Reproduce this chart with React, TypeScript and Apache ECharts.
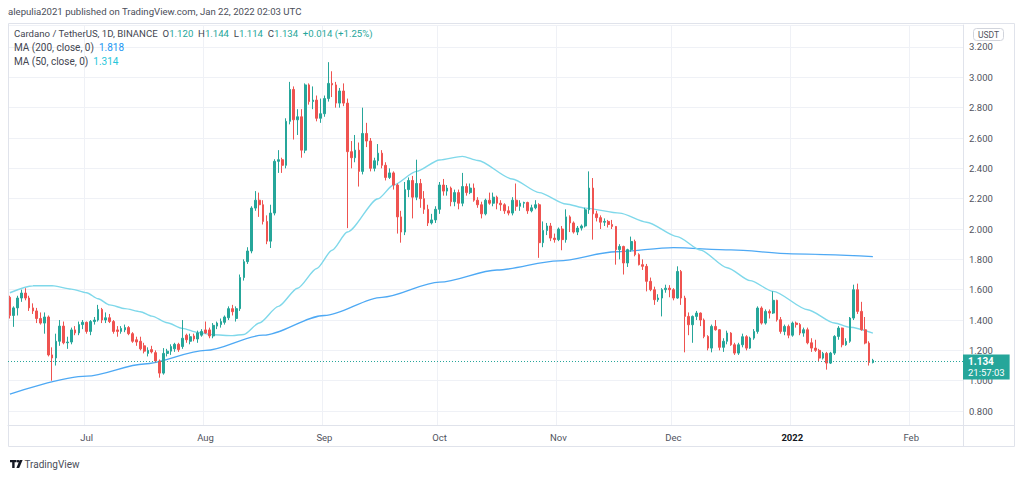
import React, { useEffect, useRef } from "react";
import * as echarts from "echarts";

// ---------- data ----------
const firstDay = Date.UTC(2021, 5, 11); // 2021-06-11
const axisDays = 249; // through 2022-02-14
const monthNames = ["Jan", "Feb", "Mar", "Apr", "May", "Jun", "Jul", "Aug", "Sep", "Oct", "Nov", "Dec"];

const dates: string[] = [];
for (let i = 0; i < axisDays; i++) {
  dates.push(new Date(firstDay + i * 86400000).toISOString().slice(0, 10));
}

// [open, high, low, close]
const june: number[][] = [
  [1.55, 1.56, 1.41, 1.43], [1.43, 1.49, 1.355, 1.48], [1.48, 1.56, 1.43, 1.545], [1.545, 1.6, 1.52, 1.578],
  [1.578, 1.61, 1.53, 1.545], [1.545, 1.56, 1.46, 1.48], [1.48, 1.51, 1.44, 1.46], [1.46, 1.48, 1.38, 1.41],
  [1.41, 1.45, 1.37, 1.38], [1.38, 1.45, 1.31, 1.42], [1.42, 1.43, 1.16, 1.17], [1.17, 1.22, 1.0, 1.15],
  [1.15, 1.31, 1.1, 1.26], [1.26, 1.4, 1.23, 1.36], [1.36, 1.39, 1.24, 1.25], [1.25, 1.29, 1.21, 1.255],
  [1.255, 1.35, 1.24, 1.335], [1.335, 1.36, 1.3, 1.315], [1.315, 1.39, 1.3, 1.37], [1.37, 1.4, 1.34, 1.385],
];
const july: number[][] = [
  [1.385, 1.39, 1.31, 1.325], [1.325, 1.4, 1.3, 1.39], [1.39, 1.42, 1.37, 1.4], [1.4, 1.5, 1.39, 1.47],
  [1.47, 1.48, 1.38, 1.4], [1.4, 1.45, 1.38, 1.415], [1.415, 1.44, 1.38, 1.39], [1.39, 1.4, 1.31, 1.325],
  [1.335, 1.36, 1.29, 1.325], [1.325, 1.36, 1.31, 1.345], [1.335, 1.37, 1.32, 1.35], [1.35, 1.36, 1.3, 1.31],
  [1.31, 1.32, 1.25, 1.26], [1.27, 1.29, 1.23, 1.255], [1.26, 1.29, 1.2, 1.21], [1.23, 1.25, 1.18, 1.195],
  [1.18, 1.22, 1.16, 1.2], [1.205, 1.23, 1.18, 1.19], [1.185, 1.2, 1.12, 1.13], [1.13, 1.14, 1.02, 1.05],
  [1.05, 1.215, 1.04, 1.18], [1.18, 1.21, 1.16, 1.195], [1.195, 1.24, 1.17, 1.225], [1.21, 1.25, 1.19, 1.24],
  [1.24, 1.25, 1.19, 1.205], [1.225, 1.4, 1.21, 1.28], [1.3, 1.31, 1.25, 1.27], [1.26, 1.31, 1.24, 1.29],
  [1.295, 1.31, 1.26, 1.275], [1.275, 1.33, 1.25, 1.315], [1.3, 1.34, 1.29, 1.325],
];
const august: number[][] = [
  [1.335, 1.39, 1.31, 1.315], [1.335, 1.35, 1.28, 1.295], [1.295, 1.38, 1.28, 1.365], [1.36, 1.39, 1.34, 1.38],
  [1.37, 1.41, 1.35, 1.39], [1.385, 1.43, 1.37, 1.42], [1.415, 1.49, 1.4, 1.475], [1.475, 1.5, 1.43, 1.455],
  [1.41, 1.49, 1.39, 1.475], [1.475, 1.7, 1.46, 1.68], [1.68, 1.8, 1.66, 1.785], [1.785, 1.88, 1.77, 1.855],
  [1.855, 2.15, 1.84, 2.138], [2.138, 2.25, 2.12, 2.19], [2.19, 2.24, 2.08, 2.16], [2.16, 2.19, 2.03, 2.05],
  [2.05, 2.09, 1.9, 1.92], [1.92, 2.16, 1.875, 2.105], [2.105, 2.46, 2.09, 2.446], [2.446, 2.52, 2.37, 2.457],
  [2.457, 2.47, 2.37, 2.42], [2.42, 2.73, 2.4, 2.71], [2.71, 2.97, 2.69, 2.92], [2.92, 2.94, 2.59, 2.72],
  [2.72, 2.79, 2.62, 2.74], [2.74, 2.79, 2.47, 2.52], [2.52, 2.96, 2.5, 2.95], [2.95, 2.96, 2.82, 2.84],
  [2.84, 2.94, 2.79, 2.85], [2.85, 2.88, 2.71, 2.73], [2.73, 2.86, 2.7, 2.76],
];
const september: number[][] = [
  [2.76, 2.88, 2.74, 2.86], [2.86, 3.1, 2.84, 2.96], [2.96, 3.04, 2.87, 2.95], [2.95, 2.97, 2.8, 2.83],
  [2.83, 2.93, 2.8, 2.91], [2.91, 2.96, 2.81, 2.83], [2.83, 2.86, 2.006, 2.51], [2.51, 2.58, 2.4, 2.47],
  [2.47, 2.62, 2.44, 2.52], [2.52, 2.57, 2.28, 2.38], [2.38, 2.8, 2.36, 2.63], [2.63, 2.7, 2.54, 2.58],
  [2.58, 2.6, 2.38, 2.4], [2.4, 2.47, 2.38, 2.45], [2.45, 2.56, 2.42, 2.5], [2.5, 2.52, 2.4, 2.42],
  [2.42, 2.44, 2.32, 2.34], [2.34, 2.4, 2.33, 2.37], [2.37, 2.38, 2.26, 2.29], [2.29, 2.3, 1.97, 2.08],
  [2.08, 2.12, 1.91, 1.98], [1.98, 2.31, 1.96, 2.26], [2.26, 2.34, 2.21, 2.32], [2.32, 2.35, 2.07, 2.21],
  [2.21, 2.457, 2.19, 2.3], [2.3, 2.33, 2.14, 2.2], [2.2, 2.25, 2.1, 2.13], [2.13, 2.16, 2.02, 2.04],
  [2.04, 2.1, 2.03, 2.06], [2.06, 2.15, 2.04, 2.13],
];
const october: number[][] = [
  [2.13, 2.31, 2.1, 2.29], [2.29, 2.33, 2.22, 2.25], [2.25, 2.29, 2.22, 2.27], [2.27, 2.28, 2.15, 2.18],
  [2.18, 2.26, 2.15, 2.24], [2.24, 2.26, 2.13, 2.17], [2.17, 2.37, 2.15, 2.28], [2.28, 2.3, 2.22, 2.24],
  [2.24, 2.3, 2.23, 2.27], [2.27, 2.3, 2.18, 2.19], [2.19, 2.21, 2.14, 2.16], [2.16, 2.18, 2.07, 2.1],
  [2.1, 2.2, 2.09, 2.19], [2.19, 2.24, 2.16, 2.17], [2.17, 2.24, 2.15, 2.21], [2.21, 2.22, 2.13, 2.17],
  [2.17, 2.19, 2.12, 2.16], [2.16, 2.17, 2.1, 2.12], [2.12, 2.15, 2.09, 2.105], [2.105, 2.21, 2.09, 2.19],
  [2.19, 2.3, 2.12, 2.15], [2.15, 2.19, 2.12, 2.17], [2.17, 2.18, 2.14, 2.175], [2.175, 2.18, 2.1, 2.12],
  [2.12, 2.16, 2.11, 2.14], [2.14, 2.19, 2.13, 2.16], [2.16, 2.17, 1.81, 1.91], [1.91, 2.05, 1.88, 1.99],
  [1.99, 2.04, 1.96, 2.02], [2.02, 2.04, 1.92, 1.94], [1.94, 1.97, 1.91, 1.93],
];
const november: number[][] = [
  [1.93, 2.01, 1.92, 2.0], [2.0, 2.02, 1.86, 1.93], [1.93, 2.13, 1.91, 2.08], [2.08, 2.09, 1.98, 2.04],
  [2.04, 2.05, 1.97, 1.98], [1.98, 2.02, 1.96, 2.006], [2.006, 2.03, 1.99, 2.02], [2.02, 2.14, 2.01, 2.127],
  [2.127, 2.38, 2.1, 2.27], [2.27, 2.336, 1.93, 2.1], [2.1, 2.12, 2.05, 2.075], [2.075, 2.09, 2.0, 2.045],
  [2.045, 2.07, 2.02, 2.05], [2.05, 2.06, 2.01, 2.03], [2.03, 2.06, 2.0, 2.017], [2.017, 2.02, 1.765, 1.864],
  [1.864, 1.9, 1.8, 1.885], [1.885, 1.89, 1.7, 1.776], [1.776, 1.87, 1.75, 1.864], [1.864, 1.95, 1.85, 1.918],
  [1.918, 1.93, 1.82, 1.831], [1.831, 1.84, 1.76, 1.765], [1.765, 1.8, 1.73, 1.754], [1.754, 1.77, 1.589, 1.655],
  [1.655, 1.68, 1.59, 1.6], [1.6, 1.62, 1.5, 1.534], [1.534, 1.57, 1.52, 1.545], [1.545, 1.61, 1.424, 1.6],
  [1.6, 1.633, 1.58, 1.61], [1.61, 1.63, 1.55, 1.6],
];
const december: number[][] = [
  [1.6, 1.61, 1.53, 1.545], [1.545, 1.754, 1.54, 1.72], [1.72, 1.73, 1.5, 1.545], [1.545, 1.56, 1.187, 1.424],
  [1.424, 1.45, 1.3, 1.369], [1.369, 1.43, 1.25, 1.424], [1.424, 1.46, 1.4, 1.446], [1.446, 1.45, 1.36, 1.4],
  [1.4, 1.41, 1.28, 1.292], [1.292, 1.3, 1.2, 1.215], [1.215, 1.37, 1.187, 1.358], [1.358, 1.4, 1.33, 1.336],
  [1.336, 1.34, 1.2, 1.22], [1.22, 1.28, 1.19, 1.26], [1.26, 1.33, 1.24, 1.314], [1.314, 1.32, 1.23, 1.237],
  [1.237, 1.25, 1.17, 1.182], [1.182, 1.25, 1.17, 1.237], [1.237, 1.31, 1.22, 1.29], [1.29, 1.3, 1.2, 1.215],
  [1.215, 1.29, 1.21, 1.281], [1.281, 1.34, 1.27, 1.325], [1.325, 1.49, 1.31, 1.479], [1.479, 1.49, 1.37, 1.38],
  [1.38, 1.47, 1.37, 1.457], [1.457, 1.47, 1.41, 1.446], [1.446, 1.589, 1.44, 1.53], [1.53, 1.534, 1.39, 1.402],
  [1.402, 1.42, 1.31, 1.325], [1.325, 1.37, 1.3, 1.358], [1.358, 1.37, 1.28, 1.3],
];
const january: number[][] = [
  [1.3, 1.39, 1.29, 1.38], [1.38, 1.39, 1.35, 1.37], [1.37, 1.38, 1.3, 1.314], [1.314, 1.35, 1.29, 1.336],
  [1.336, 1.35, 1.24, 1.25], [1.25, 1.28, 1.19, 1.215], [1.215, 1.27, 1.19, 1.2], [1.2, 1.21, 1.13, 1.149],
  [1.149, 1.19, 1.14, 1.18], [1.18, 1.19, 1.073, 1.116], [1.116, 1.19, 1.11, 1.182], [1.182, 1.3, 1.17, 1.292],
  [1.292, 1.36, 1.27, 1.347], [1.347, 1.35, 1.22, 1.237], [1.237, 1.28, 1.23, 1.26], [1.26, 1.42, 1.25, 1.413],
  [1.413, 1.633, 1.4, 1.6], [1.6, 1.64, 1.44, 1.457], [1.457, 1.52, 1.33, 1.336], [1.336, 1.42, 1.24, 1.248],
  [1.248, 1.26, 1.1, 1.12], [1.12, 1.144, 1.114, 1.134],
];

// moving averages: [date, value]
const ma200Points: [string, number][] = [
  ["2021-06-11", 0.912], ["2021-07-01", 1.03], ["2021-07-16", 1.11], ["2021-08-01", 1.2],
  ["2021-08-16", 1.3], ["2021-09-01", 1.43], ["2021-09-16", 1.55], ["2021-10-01", 1.65],
  ["2021-10-16", 1.73], ["2021-11-01", 1.79], ["2021-11-16", 1.85], ["2021-12-01", 1.877],
  ["2021-12-16", 1.862], ["2022-01-01", 1.836], ["2022-01-22", 1.818],
];
const ma50Points: [string, number][] = [
  ["2021-06-11", 1.58], ["2021-06-17", 1.626], ["2021-06-22", 1.627], ["2021-06-27", 1.604],
  ["2021-07-01", 1.58], ["2021-07-04", 1.54], ["2021-07-07", 1.5], ["2021-07-11", 1.475],
  ["2021-07-15", 1.455], ["2021-07-18", 1.426], ["2021-07-22", 1.382], ["2021-07-26", 1.345],
  ["2021-07-30", 1.318], ["2021-08-03", 1.303], ["2021-08-08", 1.297], ["2021-08-11", 1.305],
  ["2021-08-15", 1.38], ["2021-08-20", 1.49], ["2021-08-25", 1.61], ["2021-08-30", 1.74],
  ["2021-09-03", 1.86], ["2021-09-07", 1.98], ["2021-09-15", 2.2], ["2021-09-19", 2.29],
  ["2021-09-25", 2.38], ["2021-10-01", 2.455], ["2021-10-07", 2.479], ["2021-10-11", 2.452],
  ["2021-10-20", 2.33], ["2021-10-27", 2.24], ["2021-11-03", 2.165], ["2021-11-08", 2.138],
  ["2021-11-17", 2.105], ["2021-11-24", 2.045], ["2021-12-02", 1.95], ["2021-12-08", 1.862],
  ["2021-12-15", 1.745], ["2021-12-21", 1.66], ["2021-12-27", 1.589], ["2022-01-05", 1.468],
  ["2022-01-12", 1.38], ["2022-01-16", 1.352], ["2022-01-22", 1.314],
];

const yTickMin = 0.708;
const yTickMax = 3.345;
const countdown = "21:57:03";

// ---------- derived ----------
const ohlc = [...june, ...july, ...august, ...september, ...october, ...november, ...december, ...january];
const candleData = ohlc.map(([o, h, l, c]) => [o, c, l, h]);
const last = ohlc[ohlc.length - 1];
const prevClose = ohlc[ohlc.length - 2][3];
const change = last[3] - prevClose;
const changePct = (change / prevClose) * 100;
const toIdx = (pts: [string, number][]) => pts.map(([d, v]) => [dates.indexOf(d), v]);
const ma200Last = ma200Points[ma200Points.length - 1][1];
const ma50Last = ma50Points[ma50Points.length - 1][1];

const UP = "#26a69a";
const DOWN = "#ef5350";
const FONT = "Roboto, 'Noto Sans', sans-serif";
const isMonthStart = (_i: number, v: string) => v.slice(8, 10) === "01";

export default function App() {
  const ref = useRef<HTMLDivElement>(null);

  useEffect(() => {
    if (!ref.current) return;
    const chart = echarts.init(ref.current, undefined, { renderer: "svg" });

    const f3 = (v: number) => v.toFixed(3);
    const sign = change >= 0 ? "+" : "";

    const tvLogo = [
      { type: "polygon", shape: { points: [[10, 460], [16.5, 460], [16.5, 462.2], [14.6, 462.2], [14.6, 468], [12.2, 468], [12.2, 462.2], [10, 462.2]] }, style: { fill: "#131722" } },
      { type: "circle", shape: { cx: 18, cy: 461.2, r: 1.3 }, style: { fill: "#131722" } },
      { type: "polygon", shape: { points: [[19.6, 460], [22.6, 460], [19.2, 468], [16.4, 468]] }, style: { fill: "#131722" } },
    ];

    const legendFont = 9.6;

    chart.setOption({
      animation: false,
      backgroundColor: "#ffffff",
      textStyle: { fontFamily: FONT },
      grid: { left: 8, top: 25, right: 61, bottom: 53, containLabel: false },
      xAxis: {
        type: "category",
        data: dates,
        boundaryGap: true,
        axisLine: { show: true, lineStyle: { color: "#e0e3eb" } },
        axisTick: { show: false },
        axisLabel: {
          interval: isMonthStart,
          formatter: (v: string) => {
            const m = +v.slice(5, 7);
            return m === 1 ? "{y|" + v.slice(0, 4) + "}" : monthNames[m - 1];
          },
          color: "#50535e",
          fontSize: 9.5,
          fontFamily: FONT,
          margin: 7,
          rich: { y: { fontWeight: "bold", color: "#131722", fontSize: 9.5, fontFamily: FONT } },
        },
        splitLine: { show: true, interval: isMonthStart, lineStyle: { color: "#eff1f6", width: 1 } },
      },
      yAxis: {
        type: "value",
        position: "right",
        min: yTickMin,
        max: yTickMax,
        splitNumber: 13,
        axisLine: { show: true, lineStyle: { color: "#e0e3eb" } },
        axisTick: { show: false },
        axisLabel: {
          showMinLabel: false,
          showMaxLabel: false,
          formatter: (v: number) => v.toFixed(3),
          color: "#50535e",
          fontSize: 9.5,
          fontFamily: FONT,
          margin: 6,
        },
        splitLine: { show: true, lineStyle: { color: "#eff1f6", width: 1 } },
      },
      series: [
        {
          type: "line",
          name: "MA200",
          data: toIdx(ma200Points),
          smooth: 0.3,
          smoothMonotone: "x",
          showSymbol: false,
          lineStyle: { color: "#4ea9f4", width: 1.3 },
          z: 3,
          silent: true,
        },
        {
          type: "line",
          name: "MA50",
          data: toIdx(ma50Points),
          smooth: 0.25,
          smoothMonotone: "x",
          showSymbol: false,
          lineStyle: { color: "#7fd8ea", width: 1.4 },
          z: 3,
          silent: true,
        },
        {
          type: "candlestick",
          name: "ADAUSDT",
          data: candleData,
          barWidth: 2.2,
          itemStyle: { color: UP, color0: DOWN, borderColor: UP, borderColor0: DOWN, borderWidth: 1 },
          z: 4,
          markLine: {
            symbol: "none",
            silent: true,
            animation: false,
            data: [{ yAxis: last[3] }],
            lineStyle: { type: [1, 2], color: UP, width: 1 },
            label: {
              show: true,
              position: "end",
              distance: 0,
              offset: [0, 6],
              formatter: "{a|" + f3(last[3]) + "}\n{b|" + countdown + "}",
              backgroundColor: UP,
              padding: [1, 5, 1, 5],
              align: "left",
              rich: {
                a: { color: "#fff", fontWeight: "bold", fontSize: 10, lineHeight: 12, fontFamily: FONT },
                b: { color: "#fff", fontSize: 9.5, lineHeight: 11, fontFamily: FONT },
              },
            },
          },
        },
      ],
      graphic: [
        {
          type: "text",
          left: 8,
          top: 6,
          style: {
            text: "alepulia2021 published on TradingView.com, Jan 22, 2022 02:03 UTC",
            fill: "#4a4e59",
            fontSize: 9.6,
            fontFamily: FONT,
          },
        },
        {
          type: "rect",
          shape: { x: 8.5, y: 23.5, width: 1006, height: 423 },
          style: { fill: "none", stroke: "#e0e3eb", lineWidth: 1 },
          silent: true,
          z: 1,
        },
        { type: "line", shape: { x1: 963, y1: 425.5, x2: 1014.5, y2: 425.5 }, style: { stroke: "#e0e3eb", lineWidth: 1 }, z: 1 },
        { type: "line", shape: { x1: 963.5, y1: 425, x2: 963.5, y2: 446.5 }, style: { stroke: "#e0e3eb", lineWidth: 1 }, z: 1 },
        {
          type: "text",
          x: 14,
          y: 33,
          z: 100,
          style: {
            text:
              "{n|Cardano / TetherUS, 1D, BINANCE}  {k|O}{v|" + f3(last[0]) + "}  {k|H}{v|" + f3(last[1]) +
              "}  {k|L}{v|" + f3(last[2]) + "}  {k|C}{v|" + f3(last[3]) + "}  {v|" + sign + f3(change) +
              " (" + sign + changePct.toFixed(2) + "%)}",
            verticalAlign: "middle",
            fontSize: legendFont,
            fontFamily: FONT,
            rich: {
              n: { fill: "#434651", fontSize: legendFont, fontFamily: FONT },
              k: { fill: "#434651", fontSize: legendFont, fontFamily: FONT },
              v: { fill: UP, fontSize: legendFont, fontFamily: FONT },
            },
          },
        },
        {
          type: "text",
          x: 14,
          y: 47,
          z: 100,
          style: {
            text: "{k|MA (200, close, 0)}  {v|" + f3(ma200Last) + "}",
            verticalAlign: "middle",
            fontSize: 10,
            fontFamily: FONT,
            rich: {
              k: { fill: "#434651", fontSize: 10, fontFamily: FONT },
              v: { fill: "#2196f3", fontSize: 10, fontFamily: FONT },
            },
          },
        },
        {
          type: "text",
          x: 14,
          y: 61,
          z: 100,
          style: {
            text: "{k|MA (50, close, 0)}  {v|" + f3(ma50Last) + "}",
            verticalAlign: "middle",
            fontSize: 10,
            fontFamily: FONT,
            rich: {
              k: { fill: "#434651", fontSize: 10, fontFamily: FONT },
              v: { fill: "#26c6da", fontSize: 10, fontFamily: FONT },
            },
          },
        },
        {
          type: "rect",
          shape: { x: 973.5, y: 28.5, width: 30, height: 12, r: 3 },
          style: { fill: "#ffffff", stroke: "#d1d4dc", lineWidth: 1 },
          z: 100,
        },
        {
          type: "text",
          x: 988.5,
          y: 34.8,
          z: 101,
          style: { text: "USDT", fill: "#50535e", fontSize: 8.5, fontFamily: FONT, align: "center", verticalAlign: "middle" },
        },
        ...tvLogo.map((g) => ({ ...g, z: 100 })),
        {
          type: "text",
          x: 24.5,
          y: 464.5,
          z: 100,
          style: { text: "TradingView", fill: "#4a4e59", fontSize: 10, fontFamily: FONT, verticalAlign: "middle" },
        },
      ],
    });

    return () => chart.dispose();
  }, []);

  return (
    <div
      ref={ref}
      style={{ position: "absolute", left: 0, top: 0, width: 1024, height: 478, background: "#fff" }}
    />
  );
}
